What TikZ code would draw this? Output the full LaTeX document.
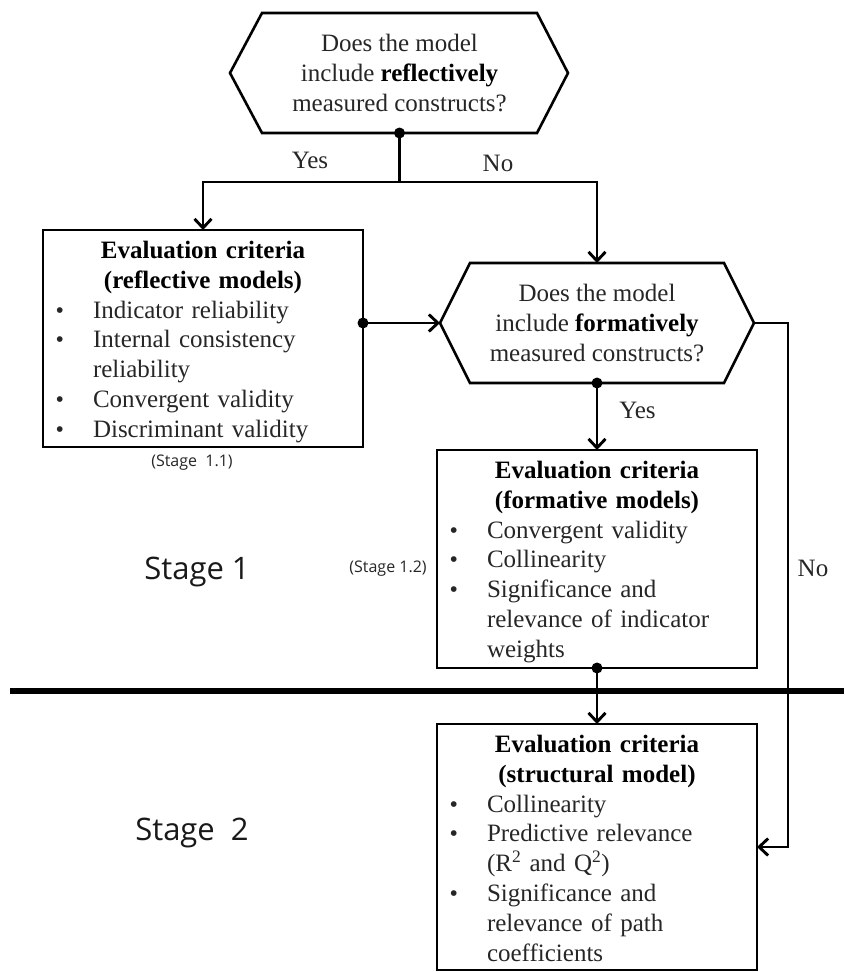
\documentclass[tikz,border=0pt]{standalone}
\usepackage{fontspec}
\setmainfont{Liberation Serif}
\newfontfamily\stagefont{Open Sans}
\usetikzlibrary{arrows.meta}
\definecolor{ink}{gray}{0.15}

% bulleted criterion with hanging indent; \newline keeps the paragraph open
\newcommand\critem[1]{\par\raggedright\noindent\hangindent=37.5pt\hangafter=1%
  \makebox[37.5pt][l]{\fontsize{24}{24}\selectfont\textbullet}#1\par}
\newcommand\crithead[2]{{\centering\bfseries\color{black}#1\\#2\par}}

\begin{document}
\begin{tikzpicture}[x=1pt,y=-1pt,
  every node/.style={text=ink, outer sep=0pt},
  body/.style={font=\fontsize{25}{29.8}\selectfont},
  critbox/.style={body, draw=black, line width=2.6pt, anchor=north west,
    inner xsep=12.5pt, inner ysep=0pt, align=left, text width=295pt, text height=28.5pt},
  hexcore/.style={body, inner sep=0pt, align=center},
  hexline/.style={draw=black, line width=2.6pt, line join=miter},
  conn/.style={draw=black, line width=2.9pt},
  arr/.style={conn, -{Straight Barb[length=9pt,width=17pt]}},
  junction/.style={fill=black},
  lbl/.style={body},
  stagelbl/.style={font=\stagefont\fontsize{31}{36}\selectfont, text=black!90},
  smalllbl/.style={font=\stagefont\fontsize{16}{19}\selectfont},
  divider/.style={draw=black, line width=6.5pt}
]
\useasboundingbox (0,0) rectangle (844,972);

% decision: reflective constructs
\node[hexcore, minimum width=275pt, minimum height=120pt] (q1) at (399.5,73)
  {Does the model\\include \textbf{\color{black}reflectively}\\measured constructs?};
\coordinate (q1W) at ([xshift=-32pt]q1.west);
\coordinate (q1E) at ([xshift=31pt]q1.east);
\draw[hexline] (q1.north west) -- (q1.north east) -- (q1E) -- (q1.south east)
  -- (q1.south west) -- (q1W) -- cycle;

% decision: formative constructs
\node[hexcore, minimum width=254pt, minimum height=120pt] (q2) at (597,323)
  {Does the model\\include \textbf{\color{black}formatively}\\measured constructs?};
\coordinate (q2W) at ([xshift=-30pt]q2.west);
\coordinate (q2E) at ([xshift=30pt]q2.east);
\draw[hexline] (q2.north west) -- (q2.north east) -- (q2E) -- (q2.south east)
  -- (q2.south west) -- (q2W) -- cycle;

% evaluation criteria boxes
\node[critbox, text depth=188.5pt] (refl) at (43,230) {%
  \crithead{Evaluation criteria}{(reflective models)}%
  \critem{Indicator reliability}%
  \critem{Internal consistency\newline reliability}%
  \critem{Convergent validity}%
  \critem{Discriminant validity}};

\node[critbox, text depth=189.5pt] (form) at (437,450) {%
  \crithead{Evaluation criteria}{(formative models)}%
  \critem{Convergent validity}%
  \critem{Collinearity}%
  \critem{Significance and\newline relevance of indicator\newline weights}};

\node[critbox, text depth=217.5pt] (struct) at (437,724) {%
  \crithead{Evaluation criteria}{(structural model)}%
  \critem{Collinearity}%
  \critem{Predictive relevance\newline (R\textsuperscript{2} and Q\textsuperscript{2})}%
  \critem{Significance and\newline relevance of path\newline coefficients}};

% stage separator
\coordinate (divL) at (10,691);
\coordinate (divR) at (844,691);
\draw[divider] (divL) -- (divR);

% connectors
\coordinate (j1) at (399.5,182);
\draw[conn] (q1.south) -- (j1);
\draw[arr] (j1) -| (refl.north);
\draw[arr] (j1) -| (q2.north);
\fill[junction] (q1.south) circle[radius=5.5pt];

\coordinate (d2) at (refl.east |- q2W);
\draw[arr] (d2) -- (q2W);
\fill[junction] (d2) circle[radius=5.5pt];

\draw[arr] (q2.south) -- (form.north);
\fill[junction] (q2.south) circle[radius=5.5pt];

\coordinate (c3) at (788,323);
\draw[arr] (q2E) -- (c3) |- (struct.east);

\draw[arr] (form.south) -- (struct.north);
\fill[junction] (form.south) circle[radius=5.5pt];

% branch labels
\node[lbl] (yes1) at (310,160) {Yes};
\node[lbl] (no1) at (498,163) {No};
\node[lbl, anchor=west] (yes2) at (616,410) {Yes};
\node[lbl] (no2) at (813,568) {No};

% stage labels
\node[stagelbl] (st1) at (197,572) {Stage 1};
\node[stagelbl] (st2) at (192,833) {Stage\ \ 2};
\node[smalllbl] (s11) at (192,463) {(Stage\ \ 1.1)};
\node[smalllbl, anchor=east] (s12) at (430,569) {(Stage 1.2)};
\end{tikzpicture}
\end{document}
